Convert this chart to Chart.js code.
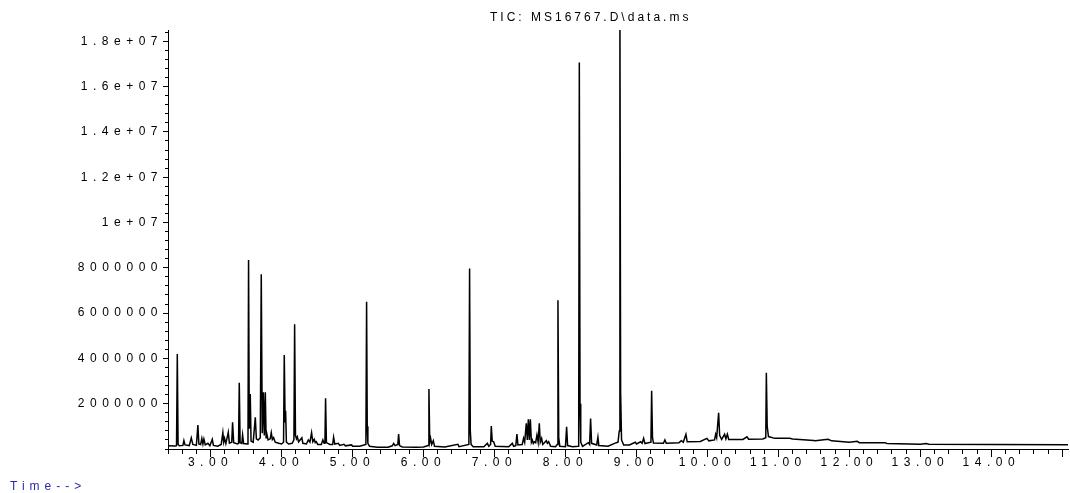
<!DOCTYPE html>
<html>
<head>
<meta charset="utf-8">
<script src="https://cdn.jsdelivr.net/npm/chart.js@4"></script>
<style>
  html, body { margin: 0; padding: 0; background: #fff; }
  #wrap { width: 1070px; height: 493px; position: relative; }
</style>
</head>
<body>
<div id="wrap"><canvas id="myChart"></canvas></div>
<script>

const titleText = 'TIC: MS16767.D\\data.ms';
const xTitleText = 'Time-->';

// retention time (min) and abundance (x 1e6 counts)
const times = [
  2.40, 2.50, 2.520, 2.531, 2.542, 2.56, 2.61, 2.624, 2.64, 2.70,
  2.728, 2.75, 2.80, 2.821, 2.835, 2.86, 2.877, 2.892, 2.906, 2.925,
  2.962, 2.99, 3.024, 3.04, 3.10, 3.15, 3.173, 3.185, 3.197, 3.215,
  3.249, 3.265, 3.298, 3.310, 3.325, 3.38, 3.394, 3.404, 3.416, 3.44,
  3.451, 3.465, 3.52, 3.527, 3.535, 3.545, 3.559, 3.57, 3.60, 3.630,
  3.645, 3.67, 3.700, 3.714, 3.728, 3.743, 3.757, 3.771, 3.782, 3.793,
  3.81, 3.840, 3.855, 3.870, 3.888, 3.91, 3.96, 4.00, 4.028, 4.038,
  4.050, 4.057, 4.068, 4.10, 4.150, 4.174, 4.184, 4.196, 4.210, 4.222,
  4.24, 4.286, 4.30, 4.35, 4.377, 4.400, 4.423, 4.440, 4.461, 4.475,
  4.489, 4.51, 4.56, 4.582, 4.600, 4.611, 4.620, 4.632, 4.68, 4.720,
  4.733, 4.75, 4.799, 4.82, 4.878, 4.90, 4.987, 5.00, 5.10, 5.188,
  5.198, 5.207, 5.216, 5.24, 5.35, 5.50, 5.56, 5.579, 5.60, 5.638,
  5.649, 5.662, 5.70, 5.90, 6.00, 6.066, 6.076, 6.088, 6.100, 6.115,
  6.138, 6.155, 6.30, 6.485, 6.50, 6.639, 6.649, 6.659, 6.670, 6.70,
  6.85, 6.899, 6.92, 6.945, 6.955, 6.968, 6.988, 7.01, 7.20, 7.251,
  7.27, 7.30, 7.316, 7.33, 7.39, 7.410, 7.425, 7.448, 7.462, 7.477,
  7.491, 7.505, 7.52, 7.533, 7.547, 7.561, 7.58, 7.598, 7.615, 7.631,
  7.645, 7.664, 7.68, 7.730, 7.745, 7.763, 7.79, 7.86, 7.884, 7.894,
  7.905, 7.92, 8.00, 8.016, 8.03, 8.10, 8.18, 8.186, 8.195, 8.205,
  8.215, 8.24, 8.322, 8.34, 8.354, 8.368, 8.44, 8.457, 8.47, 8.60,
  8.716, 8.74, 8.758, 8.767, 8.777, 8.79, 8.82, 8.90, 8.984, 9.00,
  9.059, 9.08, 9.101, 9.12, 9.204, 9.214, 9.226, 9.24, 9.38, 9.401,
  9.42, 9.60, 9.632, 9.66, 9.697, 9.715, 9.90, 9.993, 10.02, 10.10,
  10.116, 10.13, 10.158, 10.172, 10.20, 10.242, 10.26, 10.281, 10.30, 10.50,
  10.557, 10.58, 10.78, 10.822, 10.830, 10.842, 10.86, 10.95, 11.158, 11.20,
  11.497, 11.52, 11.70, 11.75, 12.00, 12.11, 12.14, 12.50, 12.53, 13.00,
  13.08, 13.12, 14.00, 15.08
];

const signal = [
  0.14, 0.13, 0.15, 4.19, 0.20, 0.14, 0.16, 0.37, 0.18, 0.15,
  0.49, 0.20, 0.16, 1.06, 0.22, 0.20, 0.47, 0.22, 0.44, 0.18,
  0.25, 0.14, 0.43, 0.16, 0.12, 0.20, 0.72, 0.30, 0.47, 0.24,
  0.74, 0.26, 0.30, 1.18, 0.28, 0.22, 0.25, 2.92, 0.28, 0.25,
  0.62, 0.24, 0.22, 0.30, 8.34, 0.90, 2.43, 0.35, 0.30, 1.40,
  0.45, 0.40, 0.50, 7.72, 0.70, 2.50, 0.60, 2.50, 0.50, 0.66,
  0.40, 0.45, 0.72, 0.42, 0.50, 0.30, 0.25, 0.22, 0.30, 4.15,
  1.20, 1.69, 0.30, 0.22, 0.25, 0.40, 5.51, 0.60, 0.45, 0.54,
  0.32, 0.50, 0.25, 0.22, 0.40, 0.30, 0.72, 0.32, 0.43, 0.28,
  0.32, 0.20, 0.20, 0.40, 0.25, 0.30, 2.24, 0.28, 0.20, 0.20,
  0.52, 0.22, 0.25, 0.16, 0.21, 0.14, 0.18, 0.12, 0.12, 0.20,
  6.50, 1.00, 0.25, 0.12, 0.08, 0.08, 0.14, 0.25, 0.15, 0.20,
  0.66, 0.15, 0.09, 0.08, 0.09, 0.15, 2.65, 0.30, 0.47, 0.20,
  0.37, 0.12, 0.09, 0.21, 0.10, 0.20, 7.97, 0.80, 0.20, 0.10,
  0.10, 0.25, 0.12, 0.20, 1.01, 0.35, 0.32, 0.12, 0.10, 0.25,
  0.12, 0.15, 0.66, 0.18, 0.20, 0.47, 0.30, 1.13, 0.40, 1.31,
  0.40, 1.31, 0.30, 0.40, 0.25, 0.32, 0.28, 0.62, 0.30, 1.13,
  0.30, 0.47, 0.20, 0.37, 0.25, 0.32, 0.12, 0.10, 0.20, 6.57,
  0.50, 0.12, 0.10, 0.98, 0.15, 0.10, 0.12, 0.40, 17.07, 2.00,
  0.30, 0.12, 0.28, 0.20, 1.34, 0.25, 0.18, 0.52, 0.15, 0.12,
  0.28, 0.30, 0.80, 19.5, 2.50, 0.40, 0.18, 0.18, 0.30, 0.22,
  0.32, 0.25, 0.47, 0.24, 0.30, 2.57, 0.50, 0.26, 0.25, 0.40,
  0.25, 0.28, 0.37, 0.30, 0.65, 0.32, 0.33, 0.47, 0.36, 0.40,
  0.65, 0.50, 1.60, 0.60, 0.42, 0.65, 0.45, 0.65, 0.42, 0.42,
  0.54, 0.43, 0.44, 0.50, 3.37, 1.00, 0.55, 0.47, 0.47, 0.44,
  0.37, 0.36, 0.43, 0.36, 0.30, 0.34, 0.28, 0.28, 0.24, 0.21,
  0.24, 0.21, 0.20, 0.19
];

const xTickValues = [3, 4, 5, 6, 7, 8, 9, 10, 11, 12, 13, 14];
const xTickLabels = ['3.00', '4.00', '5.00', '6.00', '7.00', '8.00', '9.00',
  '10.00', '11.00', '12.00', '13.00', '14.00'];
const xMajorMarks = [3, 4, 5, 6, 7, 8, 9, 10, 11, 12, 13, 14, 15];

const yTickValues = [2, 4, 6, 8, 10, 12, 14, 16, 18];
const yTickLabels = ['2000000', '4000000', '6000000', '8000000', '1e+07',
  '1.2e+07', '1.4e+07', '1.6e+07', '1.8e+07'];

// minor tick positions: every 0.2 min and every 400000 counts
const xMinor = [];
for (let k = 0; k <= 63; k++) xMinor.push(Math.round((2.4 + k * 0.2) * 10) / 10);
const yMinor = [];
for (let k = 0; k <= 46; k++) yMinor.push(Math.round(k * 4) / 10);

const points = times.map((t, i) => ({ x: t, y: signal[i] }));

function labelFor(values, labels, v) {
  const i = values.findIndex(m => Math.abs(m - v) < 1e-6);
  return i < 0 ? '' : labels[i];
}

function alignPx(p) {
  return Math.round(p - 0.5) + 0.5;
}

const chromLabels = {
  id: 'chromLabels',
  beforeDraw(chart) {
    chart.ctx.letterSpacing = '5.5px';
  },
  afterDraw(chart) {
    const { ctx, chartArea, scales } = chart;
    ctx.save();
    ctx.letterSpacing = '0px';
    ctx.strokeStyle = '#000';
    ctx.lineWidth = 1;
    ctx.beginPath();
    xMajorMarks.forEach(v => {
      const px = alignPx(scales.x.getPixelForValue(v));
      ctx.moveTo(px, chartArea.bottom);
      ctx.lineTo(px, chartArea.bottom + 8);
    });
    yTickValues.forEach(v => {
      const py = alignPx(scales.y.getPixelForValue(v));
      ctx.moveTo(chartArea.left, py);
      ctx.lineTo(chartArea.left - 5, py);
    });
    ctx.stroke();

    ctx.textBaseline = 'middle';
    ctx.textAlign = 'left';
    ctx.font = '12px "Liberation Sans", Arial, sans-serif';
    ctx.fillStyle = '#000';
    ctx.letterSpacing = '3px';
    ctx.fillText(titleText, 490, 18);
    ctx.fillStyle = '#2a2aa8';
    ctx.letterSpacing = '5px';
    ctx.fillText(xTitleText, 10, 487);
    ctx.restore();
    ctx.letterSpacing = '0px';
  }
};

Chart.defaults.font.family = '"Liberation Sans", Arial, sans-serif';
Chart.defaults.font.size = 12;
Chart.defaults.color = '#000';

const config = {
  type: 'line',
  data: {
    datasets: [{
      data: points,
      borderColor: '#000',
      borderWidth: 1.5,
      pointRadius: 0,
      tension: 0,
      fill: false
    }]
  },
  options: {
    responsive: true,
    maintainAspectRatio: false,
    animation: false,
    events: [],
    layout: { padding: { top: 30, right: 2, left: 0, bottom: 0 } },
    plugins: {
      legend: { display: false },
      tooltip: { enabled: false },
      title: { display: false }
    },
    scales: {
      x: {
        type: 'linear',
        min: 2.4,
        max: 15.08,
        afterBuildTicks: (scale) => { scale.ticks = xMinor.map(v => ({ value: v })); },
        afterFit: (scale) => { scale.height = 44; },
        grid: { drawOnChartArea: false, drawTicks: true, tickLength: 5, color: '#000' },
        border: { display: true, color: '#000', width: 1 },
        ticks: {
          autoSkip: false,
          maxRotation: 0,
          minRotation: 0,
          padding: 1,
          color: '#000',
          callback: (v) => labelFor(xTickValues, xTickLabels, v)
        }
      },
      y: {
        type: 'linear',
        min: 0,
        max: 18.5,
        afterBuildTicks: (scale) => { scale.ticks = yMinor.map(v => ({ value: v })); },
        afterFit: (scale) => { scale.width = 168; },
        grid: { drawOnChartArea: false, drawTicks: true, tickLength: 3, color: '#000' },
        border: { display: true, color: '#000', width: 1 },
        ticks: {
          autoSkip: false,
          padding: 2,
          color: '#000',
          callback: (v) => labelFor(yTickValues, yTickLabels, v)
        }
      }
    }
  },
  plugins: [chromLabels]
};

const myChart = new Chart(
  document.getElementById('myChart'),
  config
);
</script>
</body>
</html>
